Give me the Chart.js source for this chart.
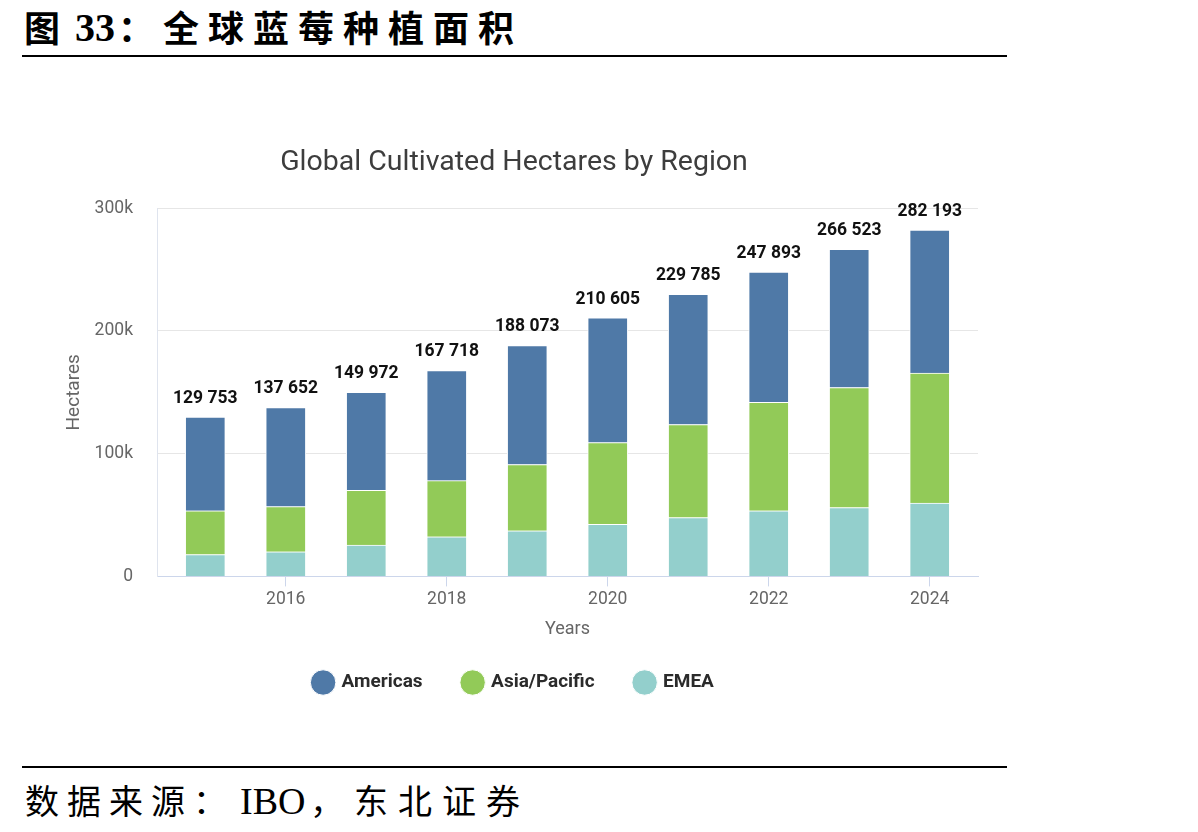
<!DOCTYPE html>
<html>
<head>
<meta charset="utf-8">
<script src="https://cdn.jsdelivr.net/npm/chart.js@4.4.0/dist/chart.umd.min.js"></script>
<style>
  html, body { margin: 0; padding: 0; background: #fff; }
  body { width: 1198px; height: 832px; position: relative; overflow: hidden; }
  .t { position: absolute; white-space: nowrap; color: #000; line-height: 1; }
  .cjkb { font-family: "Noto Sans CJK SC", sans-serif; font-weight: bold; font-size: 36px; letter-spacing: 9px; }
  .serb { font-family: "Liberation Serif", serif; font-weight: bold; font-size: 40px; }
  .cjk { font-family: "Noto Sans CJK SC", sans-serif; font-size: 34px; letter-spacing: 8px; }
  .ser { font-family: "Liberation Serif", serif; font-size: 38px; }
  #hline { position: absolute; left: 22px; top: 55px; width: 985px; height: 2px; background: #000; }
  #fline { position: absolute; left: 22px; top: 766px; width: 985px; height: 2px; background: #000; }
  #wrap { position: absolute; left: 50px; top: 130px; width: 950px; height: 580px; }
</style>
</head>
<body>
<div class="t cjkb" style="left:24px; top:8px;">图</div>
<div class="t serb" style="left:75px; top:8px;">33</div>
<div class="t cjkb" style="left:118px; top:8px;">：全球蓝莓种植面积</div>
<div id="hline"></div>
<div id="wrap"><canvas id="c" width="950" height="580"></canvas></div>
<div id="fline"></div>
<div class="t cjk" style="left:25px; top:783px;">数据来源：</div>
<div class="t ser" style="left:240px; top:782px;">IBO</div>
<div class="t cjk" style="left:310px; top:783px; letter-spacing:10px;">，东北证券</div>
<script>
const years = [2015, 2016, 2017, 2018, 2019, 2020, 2021, 2022, 2023, 2024];
const americas = [76353, 80752, 79872, 89718, 96873, 101605, 105985, 106093, 112623, 116493];
const asiaPacific = [35600, 36900, 44600, 45700, 54000, 66600, 75900, 88400, 97800, 106000];
const emea = [17800, 20000, 25500, 32300, 37200, 42400, 47900, 53400, 56100, 59700];
const totals = [129753, 137652, 149972, 167718, 188073, 210605, 229785, 247893, 266523, 282193];
const xTicks = [2016, 2018, 2020, 2022, 2024];
const yTicks = [0, 100000, 200000, 300000];

const fmt = v => String(v).replace(/\B(?=(\d{3})+(?!\d))/g, ' ');
const pts = arr => years.map((y, i) => ({ x: y, y: arr[i] }));

const totalLabels = {
  id: 'totalLabels',
  afterDatasetsDraw(chart) {
    const ctx = chart.ctx;
    const xs = chart.scales.x, ys = chart.scales.y;
    ctx.save();
    ctx.font = 'bold 17.5px Roboto, "DejaVu Sans", sans-serif';
    ctx.fillStyle = '#111111';
    ctx.textAlign = 'center';
    ctx.textBaseline = 'bottom';
    years.forEach((yr, i) => {
      ctx.fillText(fmt(totals[i]), xs.getPixelForValue(yr), ys.getPixelForValue(totals[i]) - 10);
    });
    ctx.restore();
  }
};

new Chart(document.getElementById('c'), {
  type: 'bar',
  data: {
    datasets: [
      { label: 'EMEA', data: pts(emea), backgroundColor: '#93cfcc', borderColor: '#ffffff', borderWidth: 1 },
      { label: 'Asia/Pacific', data: pts(asiaPacific), backgroundColor: '#92ca58', borderColor: '#ffffff', borderWidth: 1 },
      { label: 'Americas', data: pts(americas), backgroundColor: '#4f79a7', borderColor: '#ffffff', borderWidth: 1 }
    ]
  },
  plugins: [totalLabels],
  options: {
    responsive: false,
    animation: false,
    layout: { padding: { left: 0, right: 22, top: 0, bottom: 8 } },
    datasets: { bar: { barThickness: 40 } },
    plugins: {
      title: {
        display: true, text: 'Global Cultivated Hectares by Region',
        color: '#3d3d3d', font: { family: 'Roboto', size: 28.5, weight: 'normal' },
        padding: { top: 16, bottom: 28 }
      },
      legend: {
        position: 'bottom',
        reverse: true,
        labels: {
          usePointStyle: true, pointStyle: 'circle', boxWidth: 18, boxHeight: 18,
          padding: 41, color: '#2b2b2b',
          font: { family: 'Roboto', size: 19, weight: 'bold' }
        }
      },
      tooltip: { enabled: false }
    },
    scales: {
      x: {
        type: 'linear', stacked: true, min: 2014.4, max: 2024.6, offset: false,
        afterBuildTicks: s => { s.ticks = xTicks.map(v => ({ value: v })); },
        ticks: { color: '#666666', font: { family: 'Roboto', size: 17.5 }, padding: 3, callback: v => String(v) },
        grid: { offset: false, drawOnChartArea: false, drawTicks: true, tickLength: 10, color: '#ccd6eb' },
        border: { display: true, color: '#ccd6eb' },
        title: { display: true, text: 'Years', color: '#666666', font: { family: 'Roboto', size: 18 }, padding: { top: 5, bottom: -8 } }
      },
      y: {
        stacked: true, min: 0, max: 300000,
        afterBuildTicks: s => { s.ticks = yTicks.map(v => ({ value: v })); },
        afterFit: s => { s.width = 107; },
        ticks: { color: '#666666', font: { family: 'Roboto', size: 17.5 }, padding: 24,
          callback: v => v === 0 ? '0' : (v / 1000) + 'k' },
        grid: { color: '#e6e6e6', drawTicks: false },
        border: { display: true, color: '#dfe4ee' },
        title: { display: true, text: 'Hectares', color: '#666666', font: { family: 'Roboto', size: 19 }, padding: { top: 12.5, bottom: 0 } }
      }
    }
  }
});
</script>
</body>
</html>
